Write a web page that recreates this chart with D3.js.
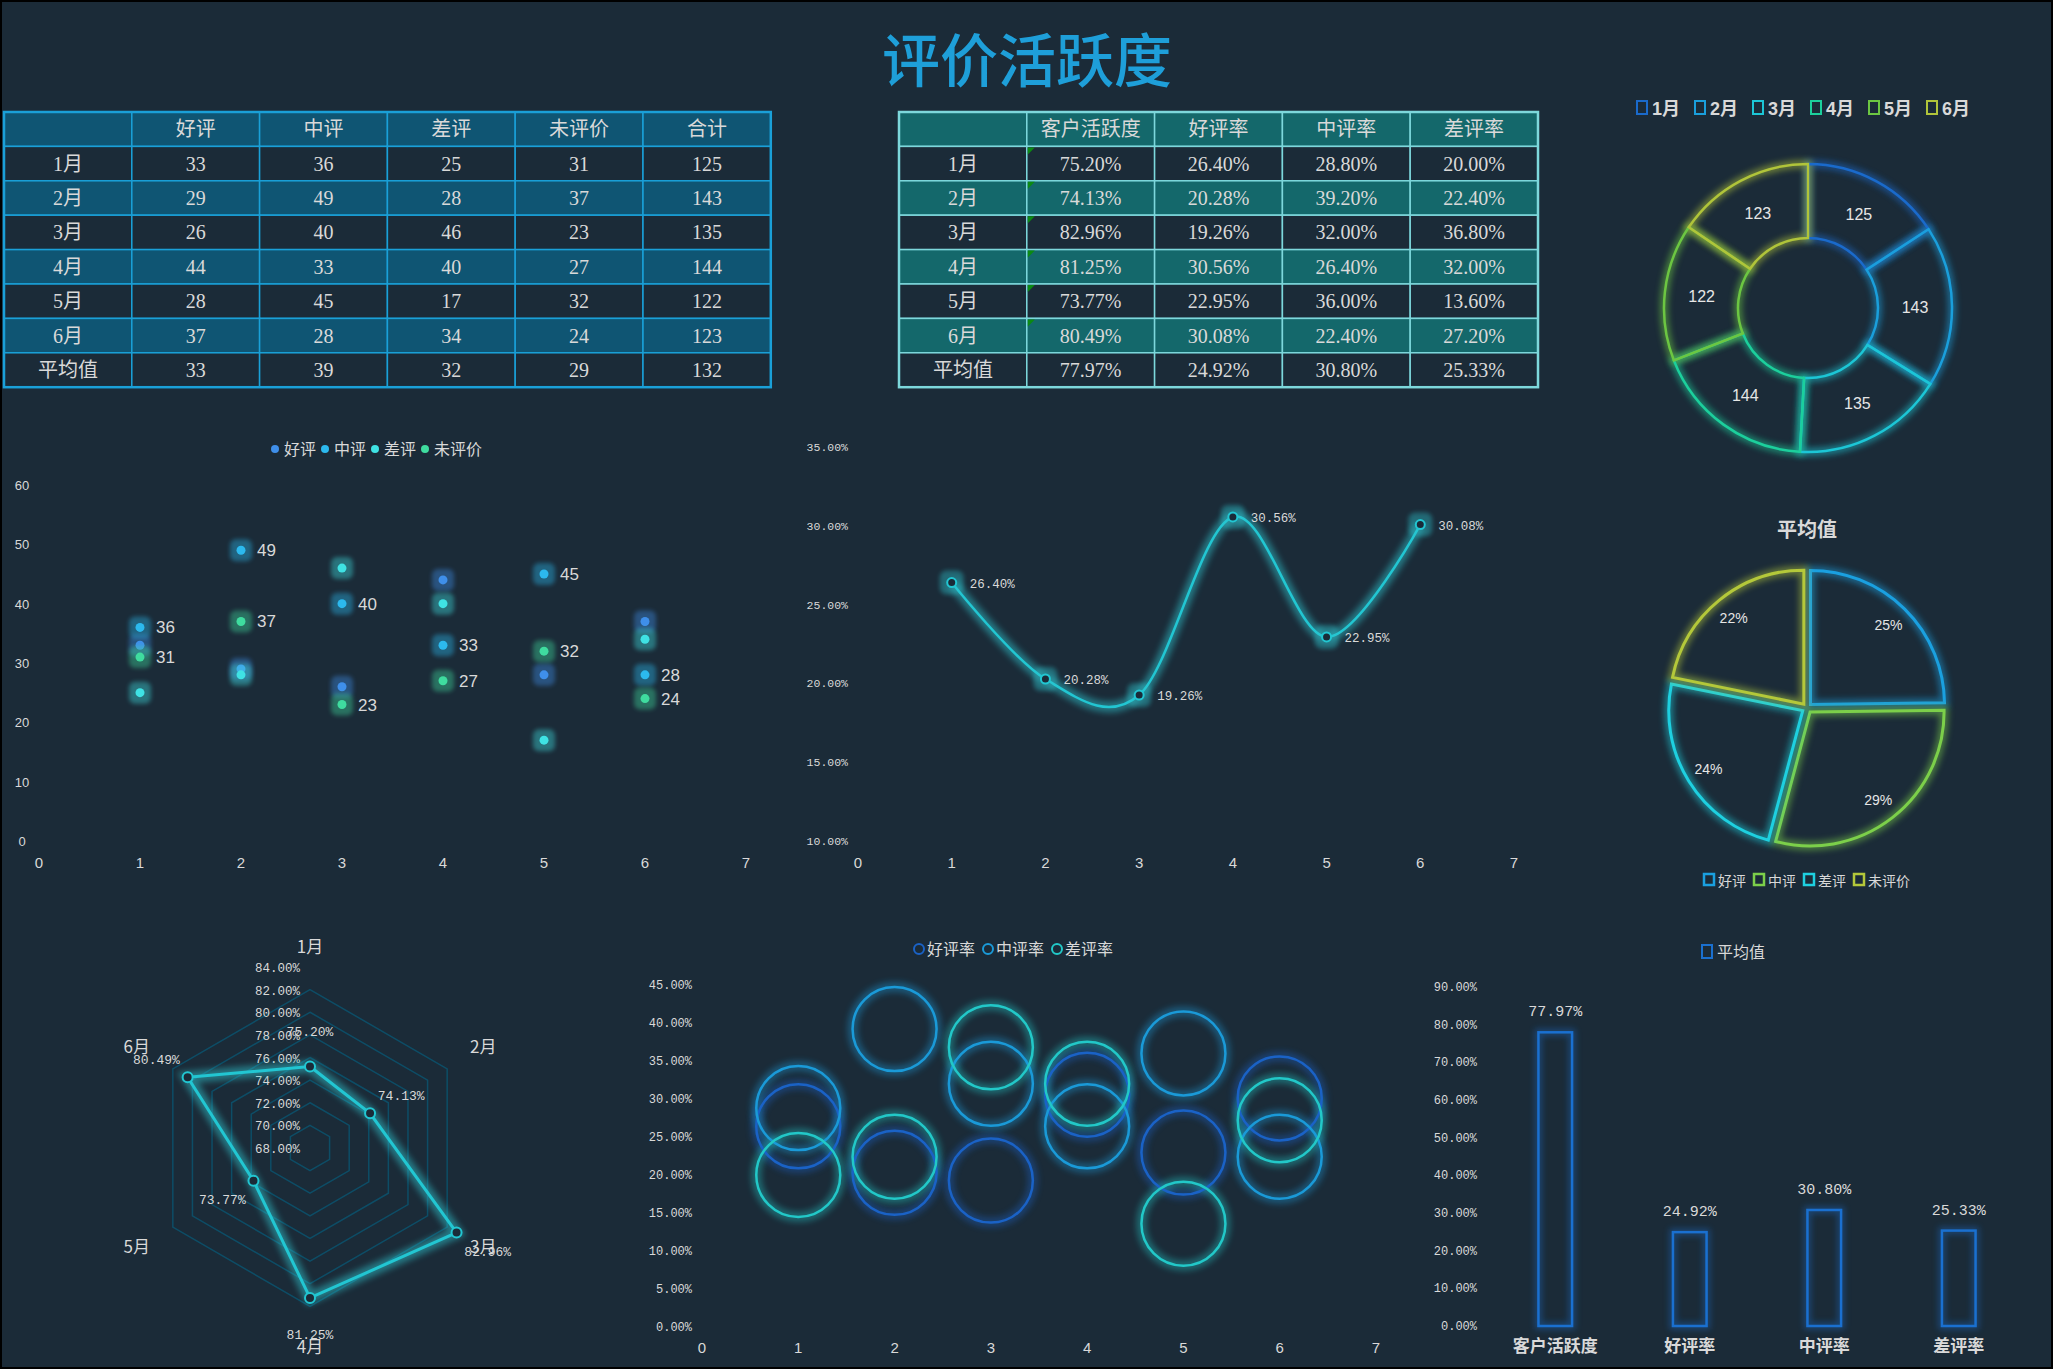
<!DOCTYPE html>
<html>
<head>
<meta charset="utf-8">
<script src="https://cdn.jsdelivr.net/npm/d3@7"></script>
<style>
  body { margin: 0; background: #fff; }
  svg text { font-family: "Noto Sans CJK SC", sans-serif; fill: #d9d9d9; }
  .serif { font-family: "Liberation Serif", "Noto Sans CJK SC", serif; }
  .mono { font-family: "Liberation Mono", "Noto Sans CJK SC", monospace; }
  .sans { font-family: "Liberation Sans Narrow", "Liberation Sans", "Noto Sans CJK SC", sans-serif; }
</style>
</head>
<body>
<svg id="canvas" width="2070" height="1371"></svg>
<script>
// ---- data ----
const months = ['1月', '2月', '3月', '4月', '5月', '6月']
const countHeaders = ['好评', '中评', '差评', '未评价', '合计']
const goodCnt = [33, 29, 26, 44, 28, 37]
const midCnt = [36, 49, 40, 33, 45, 28]
const badCnt = [25, 28, 46, 40, 17, 34]
const noneCnt = [31, 37, 23, 27, 32, 24]
const totalCnt = [125, 143, 135, 144, 122, 123]
const countAvg = [33, 39, 32, 29, 132]

const rateHeaders = ['客户活跃度', '好评率', '中评率', '差评率']
const activity = [75.20, 74.13, 82.96, 81.25, 73.77, 80.49]
const goodRate = [26.40, 20.28, 19.26, 30.56, 22.95, 30.08]
const midRate = [28.80, 39.20, 32.00, 26.40, 36.00, 22.40]
const badRate = [20.00, 22.40, 36.80, 32.00, 13.60, 27.20]
const rateAvg = [77.97, 24.92, 30.80, 25.33]

const xTicks = [0, 1, 2, 3, 4, 5, 6, 7]
const scatterTicks = [0, 10, 20, 30, 40, 50, 60]
const lineTicks = [10, 15, 20, 25, 30, 35]
const radarTicks = [68, 70, 72, 74, 76, 78, 80, 82, 84]
const bubbleTicks = [0, 5, 10, 15, 20, 25, 30, 35, 40, 45]
const barTicks = [0, 10, 20, 30, 40, 50, 60, 70, 80, 90]

const BG = '#1b2b38'
const pct = (v) => v.toFixed(2) + '%'

const svg = d3.select('#canvas')

// glow filters
const defs = svg.append('defs')
function addBlur(id, sd) {
  defs.append('filter').attr('id', id)
    .attr('x', '-50%').attr('y', '-50%').attr('width', '200%').attr('height', '200%')
    .append('feGaussianBlur').attr('stdDeviation', sd)
}
addBlur('blur2', 2)
addBlur('blur3', 3)

svg.append('rect')
  .attr('x', 1).attr('y', 1).attr('width', 2051).attr('height', 1367)
  .attr('fill', BG).attr('stroke', '#000').attr('stroke-width', 2)

// title
svg.append('text')
  .attr('x', 1027).attr('y', 82)
  .attr('text-anchor', 'middle')
  .style('font-size', '58px').style('font-weight', 500)
  .style('fill', '#1e9fd9')
  .text('评价活跃度')

// ---- tables ----
function drawTable(x0, y0, colW, rowH, rows, band, line, greenCol) {
  const g = svg.append('g')
  rows.forEach(function (row, r) {
    row.forEach(function (cell, c) {
      const x = x0 + c * colW
      const y = y0 + r * rowH
      g.append('rect')
        .attr('x', x).attr('y', y).attr('width', colW).attr('height', rowH)
        .attr('fill', (r % 2 === 0) ? band : BG)
        .attr('stroke', line).attr('stroke-width', 1.5)
      if (greenCol !== undefined && c === greenCol && r > 0 && r < rows.length - 1) {
        g.append('path')
          .attr('d', 'M' + (x + 1) + ',' + (y + 1) + 'l7,0l-7,7z')
          .attr('fill', '#0b8a12')
      }
      g.append('text')
        .attr('class', 'serif')
        .attr('x', x + colW / 2).attr('y', y + rowH / 2 + 7)
        .attr('text-anchor', 'middle')
        .style('font-size', '20px')
        .text(cell)
    })
  })
  g.append('rect')
    .attr('x', x0).attr('y', y0)
    .attr('width', colW * rows[0].length).attr('height', rowH * rows.length)
    .attr('fill', 'none').attr('stroke', line).attr('stroke-width', 2.5)
}

const table1 = [[''].concat(countHeaders)]
months.forEach(function (m, i) {
  table1.push([m, goodCnt[i], midCnt[i], badCnt[i], noneCnt[i], totalCnt[i]])
})
table1.push(['平均值'].concat(countAvg))
drawTable(4, 112, 127.8, 34.4, table1, '#0f5573', '#1aa0d8')

const table2 = [[''].concat(rateHeaders)]
months.forEach(function (m, i) {
  table2.push([m, pct(activity[i]), pct(goodRate[i]), pct(midRate[i]), pct(badRate[i])])
})
table2.push(['平均值'].concat(rateAvg.map(pct)))
drawTable(899, 112, 127.8, 34.4, table2, '#14686b', '#7dd8dc', 1)

// ---- donut: 合计 by month ----
const monthColors = ['#1a6acb', '#1a9fdc', '#1cc6d6', '#1ccf9c', '#6cc642', '#b0c43a']
{
  const lg = svg.append('g')
  months.forEach(function (m, i) {
    const x = 1637 + i * 58
    lg.append('rect').attr('x', x).attr('y', 101).attr('width', 10).attr('height', 13)
      .attr('fill', 'none').attr('stroke', monthColors[i]).attr('stroke-width', 2)
    lg.append('text').attr('class', 'sans').attr('x', x + 15).attr('y', 115)
      .style('font-size', '18px').style('font-weight', 'bold').text(m)
  })
  const cx = 1808, cy = 308
  const arcs = d3.pie().sort(null).value((d) => d)(totalCnt)
  const arc = d3.arc().innerRadius(70).outerRadius(144)
  const g = svg.append('g').attr('transform', 'translate(' + cx + ',' + cy + ')')
  g.selectAll('path.glow').data(arcs).enter().append('path')
    .attr('d', arc).attr('fill', 'none')
    .attr('stroke', (d, i) => monthColors[i]).attr('stroke-width', 8)
    .attr('opacity', 0.55).attr('filter', 'url(#blur3)')
  g.selectAll('path.main').data(arcs).enter().append('path')
    .attr('d', arc).attr('fill', 'none')
    .attr('stroke', (d, i) => monthColors[i]).attr('stroke-width', 2.5)
  const labelArc = d3.arc().innerRadius(107).outerRadius(107)
  g.selectAll('text').data(arcs).enter().append('text')
    .attr('class', 'sans')
    .attr('transform', (d) => 'translate(' + labelArc.centroid(d) + ')')
    .attr('dy', 6).attr('text-anchor', 'middle')
    .style('font-size', '16px').style('fill', '#e6e6e6')
    .text((d) => d.data)
}

// ---- pie: 平均值 ----
const pieColors = ['#1aa0e0', '#7ccf4a', '#1ed0e0', '#b4c83a']
{
  const cx = 1807, cy = 708
  svg.append('text').attr('x', cx).attr('y', 537).attr('text-anchor', 'middle')
    .style('font-size', '20px').style('font-weight', 'bold').text('平均值')
  const arcs = d3.pie().sort(null).value((d) => d)(countAvg.slice(0, 4))
  const arc = d3.arc().innerRadius(0).outerRadius(134)
  const g = svg.append('g').attr('transform', 'translate(' + cx + ',' + cy + ')')
  const slice = g.selectAll('g').data(arcs).enter().append('g')
    .attr('transform', function (d) {
      const a = (d.startAngle + d.endAngle) / 2
      return 'translate(' + (5 * Math.sin(a)) + ',' + (-5 * Math.cos(a)) + ')'
    })
  slice.append('path').attr('d', arc).attr('fill', 'none')
    .attr('stroke', (d, i) => pieColors[i]).attr('stroke-width', 9)
    .attr('opacity', 0.5).attr('filter', 'url(#blur3)')
  slice.append('path').attr('d', arc).attr('fill', 'none')
    .attr('stroke', (d, i) => pieColors[i]).attr('stroke-width', 3)
  const total = d3.sum(countAvg.slice(0, 4))
  const labelArc = d3.arc().innerRadius(116).outerRadius(116)
  g.selectAll('text').data(arcs).enter().append('text')
    .attr('class', 'sans')
    .attr('transform', (d) => 'translate(' + labelArc.centroid(d) + ')')
    .attr('dy', 5).attr('text-anchor', 'middle')
    .style('font-size', '14px').style('fill', '#e6e6e6')
    .text((d) => Math.round(d.data / total * 100) + '%')
  const names = countHeaders.slice(0, 4)
  let x = 1704
  names.forEach(function (n, i) {
    svg.append('rect').attr('x', x).attr('y', 874).attr('width', 10).attr('height', 11)
      .attr('fill', 'none').attr('stroke', pieColors[i]).attr('stroke-width', 2.5)
    svg.append('text').attr('x', x + 14).attr('y', 886)
      .style('font-size', '14px').text(n)
    x += 14 + n.length * 14 + 8
  })
}

// ---- scatter: counts ----
const scatterColors = ['#3f8fea', '#2cb9ee', '#3fe2e4', '#3fdc9f']
{
  const sx = d3.scaleLinear([0, 7], [39, 746])
  const sy = d3.scaleLinear([0, 60], [841, 485])
  const g = svg.append('g')
  g.selectAll('text.yt').data(scatterTicks).enter().append('text')
    .attr('class', 'sans').attr('x', 22).attr('y', (d) => sy(d) + 5)
    .attr('text-anchor', 'middle').style('font-size', '13px').text((d) => d)
  g.selectAll('text.xt').data(xTicks).enter().append('text')
    .attr('class', 'sans').attr('x', (d) => sx(d)).attr('y', 868)
    .attr('text-anchor', 'middle').style('font-size', '15px').text((d) => d)
  const series = [goodCnt, midCnt, badCnt, noneCnt]
  const names = countHeaders.slice(0, 4)
  series.forEach(function (vals, s) {
    const pts = g.selectAll('g.s' + s).data(vals).enter().append('g')
    pts.append('rect')
      .attr('x', (d, i) => sx(i + 1) - 11).attr('y', (d) => sy(d) - 11)
      .attr('width', 22).attr('height', 22).attr('rx', 6)
      .attr('fill', scatterColors[s]).attr('opacity', 0.4).attr('filter', 'url(#blur2)')
    pts.append('circle')
      .attr('cx', (d, i) => sx(i + 1)).attr('cy', (d) => sy(d)).attr('r', 4.5)
      .attr('fill', scatterColors[s])
    if (s === 1 || s === 3) {
      pts.append('text').attr('class', 'sans')
        .attr('x', (d, i) => sx(i + 1) + 16).attr('y', (d) => sy(d) + 6)
        .style('font-size', '17px').text((d) => d)
    }
  })
  let x = 271
  names.forEach(function (n, i) {
    g.append('circle').attr('cx', x + 4).attr('cy', 449).attr('r', 4).attr('fill', scatterColors[i])
    g.append('text').attr('x', x + 13).attr('y', 455).style('font-size', '16px').text(n)
    x += 13 + n.length * 16 + 5
  })
}

// ---- line: 好评率 ----
{
  const lx = d3.scaleLinear([0, 7], [858, 1514])
  const ly = d3.scaleLinear([10, 35], [841, 447])
  const g = svg.append('g')
  g.selectAll('text.yt').data(lineTicks).enter().append('text')
    .attr('class', 'mono').attr('x', 848).attr('y', (d) => ly(d) + 4)
    .attr('text-anchor', 'end').style('font-size', '11.5px').text((d) => pct(d))
  g.selectAll('text.xt').data(xTicks).enter().append('text')
    .attr('class', 'sans').attr('x', (d) => lx(d)).attr('y', 868)
    .attr('text-anchor', 'middle').style('font-size', '15px').text((d) => d)
  const line = d3.line().x((d, i) => lx(i + 1)).y((d) => ly(d)).curve(d3.curveCardinal.tension(0))
  g.append('path').attr('d', line(goodRate)).attr('fill', 'none')
    .attr('stroke', '#2ec6d0').attr('stroke-width', 11).attr('opacity', 0.5)
    .attr('filter', 'url(#blur3)')
  g.append('path').attr('d', line(goodRate)).attr('fill', 'none')
    .attr('stroke', '#22c6d2').attr('stroke-width', 2.5)
  g.selectAll('rect.halo').data(goodRate).enter().append('rect')
    .attr('x', (d, i) => lx(i + 1) - 12).attr('y', (d) => ly(d) - 12)
    .attr('width', 24).attr('height', 24).attr('rx', 7)
    .attr('fill', '#2ec6d0').attr('opacity', 0.4).attr('filter', 'url(#blur2)')
  g.selectAll('circle').data(goodRate).enter().append('circle')
    .attr('cx', (d, i) => lx(i + 1)).attr('cy', (d) => ly(d)).attr('r', 4.5)
    .attr('fill', BG).attr('stroke', '#22c6d2').attr('stroke-width', 2)
  g.selectAll('text.lab').data(goodRate).enter().append('text')
    .attr('class', 'mono').attr('x', (d, i) => lx(i + 1) + 18).attr('y', (d) => ly(d) + 5)
    .style('font-size', '12.5px').text((d) => pct(d))
}

// ---- radar: 客户活跃度 ----
{
  const cx = 310, cy = 1148
  const rr = d3.scaleLinear([68, 84], [0, 181])
  const pt = (v, i) => {
    const a = i * Math.PI / 3
    return [cx + rr(v) * Math.sin(a), cy - rr(v) * Math.cos(a)]
  }
  const g = svg.append('g')
  radarTicks.slice(1, -1).forEach(function (t) {
    g.append('path').attr('d', d3.line()(months.map((m, i) => pt(t, i))) + 'Z')
      .attr('fill', 'none').attr('stroke', '#0d4d66').attr('stroke-width', 1.5)
  })
  g.selectAll('text.tick').data(radarTicks).enter().append('text')
    .attr('class', 'mono').attr('x', cx - 10).attr('y', (d) => cy - rr(d) + 5)
    .attr('text-anchor', 'end').style('font-size', '12.5px').text((d) => pct(d))
  const poly = d3.line()(activity.map(pt)) + 'Z'
  g.append('path').attr('d', poly).attr('fill', 'none')
    .attr('stroke', '#2ec6d0').attr('stroke-width', 12).attr('opacity', 0.5)
    .attr('filter', 'url(#blur3)')
  g.append('path').attr('d', poly).attr('fill', 'none')
    .attr('stroke', '#22c6d2').attr('stroke-width', 3)
  g.selectAll('circle').data(activity).enter().append('circle')
    .attr('cx', (d, i) => pt(d, i)[0]).attr('cy', (d, i) => pt(d, i)[1]).attr('r', 5)
    .attr('fill', BG).attr('stroke', '#22c6d2').attr('stroke-width', 2)
  g.selectAll('text.lab').data(activity).enter().append('text')
    .attr('class', 'mono')
    .attr('x', function (d, i) {
      const a = i * Math.PI / 3
      return cx + (rr(d) + 36) * Math.sin(a)
    })
    .attr('y', function (d, i) {
      const a = i * Math.PI / 3
      return cy - (rr(d) + 36) * Math.cos(a) + 5
    })
    .attr('text-anchor', 'middle').style('font-size', '13px').text((d) => pct(d))
  g.selectAll('text.axis').data(months).enter().append('text')
    .attr('x', function (d, i) { return cx + 200 * Math.sin(i * Math.PI / 3) })
    .attr('y', function (d, i) { return cy - 200 * Math.cos(i * Math.PI / 3) + 5 })
    .attr('text-anchor', 'middle').style('font-size', '17px').text((d) => d)
}

// ---- bubbles: rates ----
const bubbleColors = ['#1a62c6', '#1a9ad8', '#22c8c8']
{
  const bx = d3.scaleLinear([0, 7], [702, 1376])
  const by = d3.scaleLinear([0, 45], [1327, 985])
  const g = svg.append('g')
  g.selectAll('text.yt').data(bubbleTicks).enter().append('text')
    .attr('class', 'mono').attr('x', 692).attr('y', (d) => by(d) + 4)
    .attr('text-anchor', 'end').style('font-size', '12px').text((d) => pct(d))
  g.selectAll('text.xt').data(xTicks).enter().append('text')
    .attr('class', 'sans').attr('x', (d) => bx(d)).attr('y', 1353)
    .attr('text-anchor', 'middle').style('font-size', '15px').text((d) => d)
  const series = [goodRate, midRate, badRate]
  series.forEach(function (vals, s) {
    g.selectAll('circle.h' + s).data(vals).enter().append('circle')
      .attr('cx', (d, i) => bx(i + 1)).attr('cy', (d) => by(d)).attr('r', 42)
      .attr('fill', 'none').attr('stroke', bubbleColors[s]).attr('stroke-width', 10)
      .attr('opacity', 0.4).attr('filter', 'url(#blur3)')
  })
  series.forEach(function (vals, s) {
    g.selectAll('circle.c' + s).data(vals).enter().append('circle')
      .attr('cx', (d, i) => bx(i + 1)).attr('cy', (d) => by(d)).attr('r', 42)
      .attr('fill', 'none').attr('stroke', bubbleColors[s]).attr('stroke-width', 2.5)
  })
  let x = 914
  rateHeaders.slice(1).forEach(function (n, i) {
    g.append('circle').attr('cx', x + 5).attr('cy', 949).attr('r', 5)
      .attr('fill', 'none').attr('stroke', bubbleColors[i]).attr('stroke-width', 2)
    g.append('text').attr('x', x + 13).attr('y', 955).style('font-size', '16px').text(n)
    x += 13 + n.length * 16 + 8
  })
}

// ---- bars: 平均值 rates ----
{
  const band = d3.scaleBand(rateHeaders, [1488, 2026]).paddingInner(0.75).paddingOuter(0.375)
  const y = d3.scaleLinear([0, 90], [1326, 987])
  const g = svg.append('g')
  g.selectAll('text.yt').data(barTicks).enter().append('text')
    .attr('class', 'mono').attr('x', 1477).attr('y', (d) => y(d) + 4)
    .attr('text-anchor', 'end').style('font-size', '12px').text((d) => pct(d))
  g.selectAll('text.xt').data(rateHeaders).enter().append('text')
    .attr('x', (d) => band(d) + band.bandwidth() / 2).attr('y', 1352)
    .attr('text-anchor', 'middle').style('font-size', '17px').style('font-weight', 'bold')
    .text((d) => d)
  g.selectAll('rect.h').data(rateAvg).enter().append('rect')
    .attr('x', (d, i) => band(rateHeaders[i])).attr('y', (d) => y(d))
    .attr('width', band.bandwidth()).attr('height', (d) => y(0) - y(d))
    .attr('fill', 'none').attr('stroke', '#1a70d0').attr('stroke-width', 7)
    .attr('opacity', 0.4).attr('filter', 'url(#blur3)')
  g.selectAll('rect.b').data(rateAvg).enter().append('rect')
    .attr('x', (d, i) => band(rateHeaders[i])).attr('y', (d) => y(d))
    .attr('width', band.bandwidth()).attr('height', (d) => y(0) - y(d))
    .attr('fill', 'none').attr('stroke', '#1a70d0').attr('stroke-width', 2.5)
  g.selectAll('text.lab').data(rateAvg).enter().append('text')
    .attr('class', 'mono')
    .attr('x', (d, i) => band(rateHeaders[i]) + band.bandwidth() / 2).attr('y', (d) => y(d) - 16)
    .attr('text-anchor', 'middle').style('font-size', '15px').text((d) => pct(d))
  g.append('rect').attr('x', 1702).attr('y', 945).attr('width', 10).attr('height', 13)
    .attr('fill', 'none').attr('stroke', '#1a70d0').attr('stroke-width', 2)
  g.append('text').attr('x', 1717).attr('y', 958).style('font-size', '16px').text('平均值')
}
</script>
</body>
</html>
